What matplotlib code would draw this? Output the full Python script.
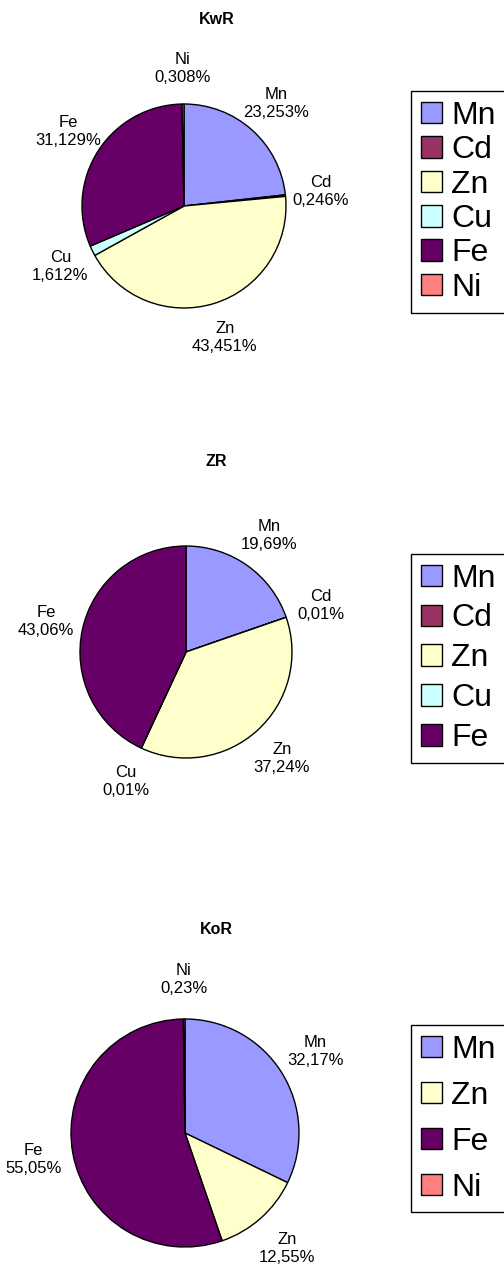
import matplotlib
matplotlib.use("Agg")
import matplotlib.pyplot as plt

plt.rcParams["font.family"] = ["Liberation Sans", "DejaVu Sans"]

# -------------------
# Data
# -------------------

colors = {
    "Mn": "#9999FF",
    "Cd": "#993366",
    "Zn": "#FFFFCC",
    "Cu": "#CCFFFF",
    "Fe": "#660066",
    "Ni": "#FF8080"
}

kwr_names = ["Mn", "Cd", "Zn", "Cu", "Fe", "Ni"]
kwr_values = [23.253, 0.246, 43.451, 1.612, 31.129, 0.308]

zr_names = ["Mn", "Cd", "Zn", "Cu", "Fe"]
zr_values = [19.69, 0.01, 37.24, 0.01, 43.06]

kor_names = ["Mn", "Zn", "Fe", "Ni"]
kor_values = [32.17, 12.55, 55.05, 0.23]

W = 504
H = 1266

fig = plt.figure(figsize=(W / 100, H / 100), dpi=100)

# title, pie centre / radius, legend top, row spacing (pixels)
charts = [
    ("KwR", kwr_names, kwr_values, 3, 20, (184, 206, 102), 91, 0.14),
    ("ZR", zr_names, zr_values, 2, 461, (186, 652, 106), 554, 0.31),
    ("KoR", kor_names, kor_values, 2, 930, (185, 1133, 114), 1025, 0.50),
]

for title, names, values, dec, ty, (cx, cy, r), ltop, lspace in charts:

    fig.text(
        216.5 / W,
        1 - ty / H,
        title,
        ha="center",
        va="center",
        fontsize=11.5,
        fontweight="bold"
    )

    ax = fig.add_axes([
        (cx - r) / W,
        (H - cy - r) / H,
        2 * r / W,
        2 * r / H
    ])

    labels = [
        n + "\n" + f"{v:.{dec}f}".replace(".", ",") + "%"
        for n, v in zip(names, values)
    ]

    wedges, texts = ax.pie(
        values,
        labels=labels,
        colors=[colors[n] for n in names],
        startangle=90,
        counterclock=False,
        labeldistance=1.35,
        wedgeprops=dict(edgecolor="black", linewidth=1),
        textprops=dict(fontsize=12, linespacing=1.25)
    )

    for t in texts:
        t.set_ha("center")
        t.set_va("center")

    ax.set_xlim(-1, 1)
    ax.set_ylim(-1, 1)

    leg = ax.legend(
        wedges,
        names,
        loc="upper left",
        bbox_to_anchor=(411 / W, 1 - ltop / H),
        bbox_transform=fig.transFigure,
        fontsize=23,
        frameon=True,
        fancybox=False,
        shadow=False,
        framealpha=1,
        edgecolor="black",
        borderpad=0.3,
        borderaxespad=0,
        labelspacing=lspace,
        handlelength=0.66,
        handleheight=0.66,
        handletextpad=0.3
    )

    leg.get_frame().set_linewidth(1)

fig.savefig("out.png", dpi=100)
